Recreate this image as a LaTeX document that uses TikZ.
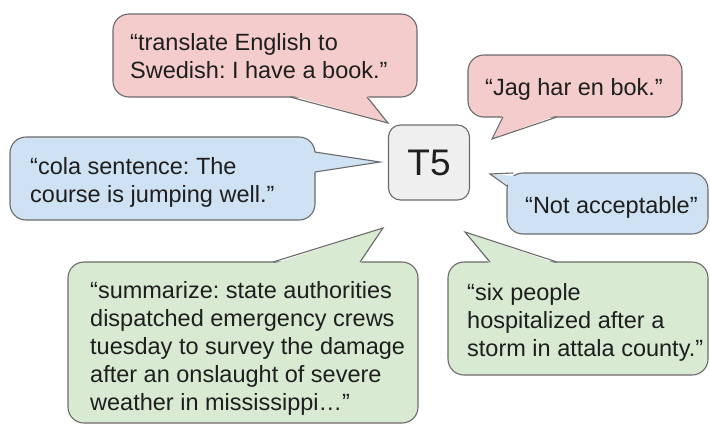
\documentclass[tikz,border=0pt]{standalone}
\usepackage{fontspec}
\setmainfont{Liberation Sans}
\frenchspacing
\definecolor{bred}{HTML}{F4CCCC}
\definecolor{bblue}{HTML}{CFE2F3}
\definecolor{bgreen}{HTML}{D9EAD3}
\definecolor{bgray}{HTML}{EFEFEF}
\definecolor{edge}{HTML}{6B6B6B}
\definecolor{ink}{HTML}{1E1E1E}
\tikzset{
  boxline/.style={draw=edge, line width=1.1pt, rounded corners=16pt},
  tailline/.style={draw=edge, line width=1.1pt, line join=miter},
  % anchored at the baseline of the last line
  msg/.style={inner sep=0pt, anchor=base west, align=left, text=ink,
              font=\fontsize{23.5}{28}\selectfont},
}
% bubble: fill colour, box corners, tail base 1, tip, tail base 2
% (#7,#8 are the base points nudged into the box so the fill hides the border)
\newcommand{\speechbubble}[9]{%
  \path[boxline, fill=#1] (#2) rectangle (#3);
  \fill[#1] (#7) -- (#5) -- (#8) -- cycle;
  \draw[tailline] (#4) -- (#5) -- (#6);
}
\begin{document}
\begin{tikzpicture}[x=1pt,y=-1pt]
\useasboundingbox (0,0) rectangle (710,426);
\fill[white] (0,0) rectangle (710,426);

% translate prompt (top)
\speechbubble{bred}{113,14}{417,97}{290,97}{388,123}{367,97}{290,95}{367,95}{}
\node[msg] (tr) at (130,78) {“translate English to\\Swedish: I have a book.”};

% Swedish output
\speechbubble{bred}{468,55}{682,117}{503,117}{492,139}{557,117}{503,115}{557,115}{}
\node[msg] (sv) at (485,95) {“Jag har en bok.”};

% cola prompt
\speechbubble{bblue}{10,137}{315,220}{315,152}{380,162}{315,172}{313,152}{313,172}{}
\node[msg] (cola) at (30,202) {“cola sentence: The\\course is jumping well.”};

% cola output
\speechbubble{bblue}{507,173}{708,234}{513,173}{490,174}{507,186}{515,176}{510,186}{}
\node[msg] (na) at (525,213) {“Not acceptable”};

% summarize prompt
\speechbubble{bgreen}{68,262}{418,423}{273,262}{383,228}{360,262}{273,264}{360,264}{}
\node[msg] (sum) at (90,410) {“summarize: state authorities\\dispatched emergency crews\\tuesday to survey the damage\\after an onslaught of severe\\weather in mississippi…”};

% summary output
\speechbubble{bgreen}{448,262}{708,375}{490,262}{465,232}{557,262}{490,264}{557,264}{}
\node[msg] (six) at (467,356) {“six people\\hospitalized after a\\storm in attala county.”};

% model
\node[draw=edge, line width=1.1pt, rounded corners=12pt, fill=bgray,
      minimum width=81pt, minimum height=75pt, inner sep=0pt, text=ink,
      font=\fontsize{37}{40}\selectfont] (t5) at (429,162.5) {T5};
\end{tikzpicture}
\end{document}
